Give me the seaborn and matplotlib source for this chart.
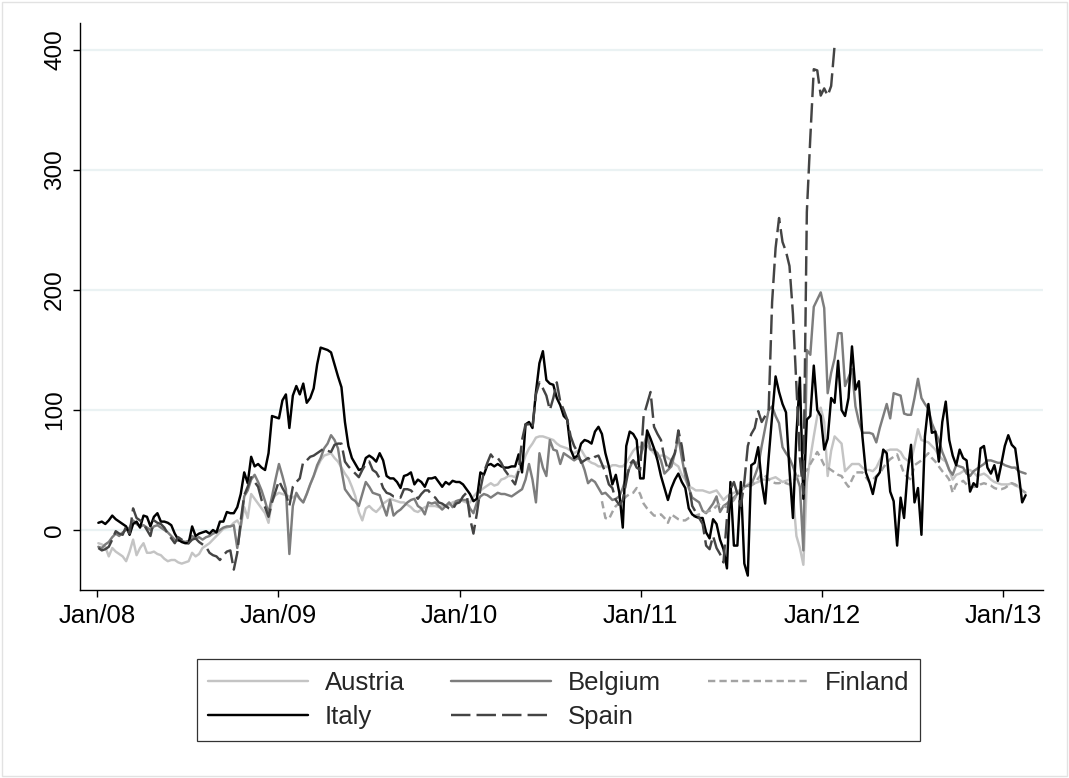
import numpy as np
import pandas as pd
import matplotlib
matplotlib.use('Agg')
import matplotlib.pyplot as plt
import matplotlib.dates as mdates
from matplotlib.patches import Rectangle
import seaborn as sns

# ------------------------------------------------------------
# Weekly spreads, one row of the list per year
# ------------------------------------------------------------
start_date = '2008-01-04'
n_weeks = 268
finland_first_week = 145   # Finland series starts in Oct 2010

austria = [
    -11, -12, -14, -22, -15, -18, -20, -22, -26, -18, -8, -21, -15, -11, -19, -19, -18, -20, -21, -24,
    -26, -25, -25, -27, -28, -27, -26, -19, -22, -20, -15, -13, -11, -8, -5, -2, 1, 2, 3, 6,
    8, 3, 19, 10, 30, 26, 22, 18, 14, 6, 25, 29,
    31, 30, 29, 28, 27, 29, 26, 23, 30, 38, 45, 52, 58, 62, 63, 64, 60, 57, 52, 47,
    43, 36, 28, 15, 8, 18, 20, 17, 15, 18, 22, 24, 26, 25, 24, 23, 23, 21, 19, 16,
    15, 17, 19, 20, 20, 20, 19, 20, 20, 21, 23, 24,
    25, 24, 23, 23, 28, 31, 33, 35, 37, 39, 37, 38, 42, 43, 45, 45, 44, 50, 53, 62,
    68, 72, 77, 78, 78, 77, 76, 75, 72, 70, 69, 68, 66, 64, 66, 67, 62, 58, 56, 55,
    53, 53, 53, 52, 54, 54, 53, 53, 56, 61, 66, 69,
    69, 71, 70, 67, 64, 61, 62, 62, 60, 58, 55, 53, 46, 42, 36, 35, 33, 33, 33, 32,
    31, 32, 33, 29, 25, 28, 30, 31, 32, 34, 36, 38, 40, 39, 40, 42, 42, 42, 43, 44,
    42, 40, 41, 42, 30, -5, -15, -29, 40, 60, 78, 95,
    102, 90, 45, 66, 78, 75, 72, 49, 52, 55, 55, 55, 52, 50, 50, 49, 52, 58, 64, 66,
    67, 67, 67, 65, 60, 58, 57, 70, 84, 75, 74, 73, 70, 67, 62, 59, 57, 50, 42, 46,
    47, 49, 50, 50, 48, 45, 46, 47, 45, 42, 40, 39,
    38, 38, 38, 39, 37, 36, 33, 31,
]

belgium = [
    -14, -15, -12, -10, -6, -3, -5, -2, 0, 2, 8, 5, 3, 4, 2, 0, 3, 4, 2, 0,
    -2, -5, -8, -9, -9, -10, -9, -5, -7, -6, -8, -6, -5, -3, -2, 0, 2, 3, 3, 4,
    -15, 3, 28, 33, 42, 46, 40, 33, 24, 14, 28, 42,
    55, 45, 34, -20, 20, 31, 26, 23, 30, 38, 45, 54, 60, 68, 72, 79, 75, 68, 50, 34,
    30, 26, 24, 20, 30, 40, 36, 31, 30, 29, 20, 12, 25, 12, 15, 17, 20, 23, 25, 26,
    20, 18, 13, 23, 22, 23, 20, 17, 20, 23, 19, 24,
    25, 25, 25, 18, 14, 23, 28, 30, 29, 27, 29, 31, 30, 30, 29, 28, 30, 32, 34, 42,
    55, 42, 23, 64, 52, 45, 75, 67, 66, 55, 64, 62, 60, 58, 60, 58, 50, 39, 42, 40,
    35, 30, 31, 28, 25, 26, 28, 35, 44, 52, 58, 55,
    61, 70, 80, 67, 67, 64, 58, 47, 50, 53, 64, 78, 60, 45, 35, 27, 25, 23, 16, 14,
    18, 22, 28, 15, 20, 22, 25, 27, 30, 33, 36, 37, 38, 45, 53, 70, 85, 100, 103, 95,
    89, 69, 64, 60, 53, 45, 36, -17, 150, 146, 186, 192,
    198, 185, 114, 131, 143, 164, 164, 120, 127, 134, 103, 90, 81, 81, 81, 80, 73, 85, 95, 105,
    93, 114, 113, 112, 97, 96, 96, 110, 126, 110, 105, 101, 89, 82, 75, 65, 58, 50, 46, 54,
    53, 52, 47, 45, 49, 51, 53, 55, 58, 58, 57, 56,
    56, 54, 53, 52, 52, 49, 48, 47,
]

finland = [
    24, 10, 9, 15, 20, 22, 25, 28, 30, 31, 35,
    30, 22, 18, 15, 12, 12, 13, 10, 6, 13, 11, 9, 8, 8, 10, 11, 12, 13, 14, 15,
    16, 17, 20, 22, 20, 19, 22, 25, 30, 33, 35, 36, 37, 39, 43, 47, 45, 42, 40, 39,
    39, 40, 39, 38, 40, 44, 46, 47, 50, 55, 60, 65,
    60, 54, 52, 50, 48, 46, 45, 40, 36, 42, 48, 48, 48, 44, 40, 42, 45, 47, 52, 56,
    59, 61, 63, 55, 47, 44, 42, 54, 56, 58, 61, 64, 60, 57, 53, 49, 46, 42, 31, 38,
    39, 41, 38, 35, 36, 36, 38, 39, 38, 37, 35, 34,
    34, 35, 37, 39, 38, 36, 33, 31,
]

italy = [
    6, 7, 5, 8, 12, 9, 7, 5, 3, -4, 5, 7, 2, 12, 11, 3, 11, 14, 7, 7,
    6, 4, -3, -8, -10, -11, -11, 3, -5, -3, -2, -1, -3, 0, -2, 7, 7, 15, 14, 14,
    19, 30, 48, 39, 61, 53, 55, 52, 50, 64, 95, 94,
    93, 108, 113, 85, 112, 120, 113, 122, 106, 110, 118, 138, 152, 151, 150, 148, 138, 128, 119, 90,
    70, 60, 55, 50, 51, 60, 62, 60, 57, 64, 58, 45, 43, 43, 40, 35, 45, 46, 48, 38,
    42, 40, 36, 43, 43, 44, 40, 36, 40, 38, 41, 40,
    40, 38, 34, 30, 24, 26, 48, 46, 54, 55, 53, 55, 53, 52, 52, 53, 53, 63, 48, 88,
    90, 85, 115, 139, 149, 125, 122, 121, 110, 104, 95, 92, 67, 60, 62, 72, 75, 74, 72, 82,
    86, 80, 64, 53, 38, 46, 31, 2, 70, 82, 80, 75,
    43, 43, 83, 76, 68, 58, 45, 35, 25, 35, 42, 47, 40, 35, 18, 13, 11, 10, 10, -2,
    -7, 9, 5, -8, -16, -32, 40, -13, -13, 40, -28, -38, 54, 56, 69, 40, 22, 60, 95, 128,
    115, 105, 98, 50, 10, 80, 127, 26, 92, 95, 137, 100,
    95, 67, 76, 110, 106, 141, 100, 95, 110, 153, 117, 124, 78, 48, 40, 30, 44, 48, 67, 64,
    32, 24, -13, 27, 10, 48, 71, 23, 35, -4, 78, 105, 81, 82, 57, 90, 107, 75, 62, 54,
    67, 60, 58, 32, 39, 36, 68, 70, 52, 47, 54, 41,
    55, 70, 79, 71, 68, 47, 23, 29,
]

spain = [
    -15, -17, -16, -14, -8, -1, -3, -4, 3, -3, 18, 10, 8, 5, 0, -5, 8, 6, 5, 2,
    -3, -7, -11, -6, -8, -10, -11, -8, -7, -10, -12, -14, -19, -21, -22, -25, -21, -18, -17, -33,
    -19, 8, 29, 36, 44, 40, 36, 25, 19, 11, 23, 32,
    41, 35, 30, 20, 36, 40, 43, 57, 58, 61, 62, 64, 66, 68, 66, 65, 71, 72, 72, 57,
    53, 50, 47, 44, 50, 55, 57, 50, 48, 43, 35, 31, 30, 28, 28, 27, 34, 34, 33, 30,
    26, 30, 33, 33, 29, 27, 23, 22, 20, 18, 17, 22,
    23, 28, 31, 10, -3, 14, 34, 48, 56, 63, 59, 60, 56, 50, 46, 42, 38, 49, 75, 88,
    88, 85, 113, 123, 118, 112, 100, 110, 123, 107, 100, 92, 78, 70, 65, 56, 58, 60, 58, 61,
    62, 55, 48, 38, 35, 25, 21, 25, 40, 55, 58, 52,
    50, 95, 105, 115, 86, 80, 75, 60, 50, 58, 64, 83, 70, 50, 39, 20, 15, 10, 5, -13,
    -16, -5, -15, -20, -27, 10, 34, 40, 30, 20, 40, 70, 80, 85, 99, 90, 95, 100, 190, 235,
    260, 240, 232, 220, 180, 120, 60, 30, 265, 327, 384, 383,
    362, 368, 362, 370, 404,
]

countries = ['Austria', 'Belgium', 'Finland', 'Italy', 'Spain']
colors = {'Austria': '#c4c4c4', 'Belgium': '#7d7d7d', 'Finland': '#a3a3a3',
          'Italy': '#000000', 'Spain': '#444444'}
dashes = {'Austria': '', 'Belgium': '', 'Finland': (3, 1.7),
          'Italy': '', 'Spain': (8, 2.5)}

# ------------------------------------------------------------
# Long table for seaborn
# ------------------------------------------------------------
dates = pd.date_range(start_date, periods=n_weeks, freq='7D')
series = {'Austria': (austria, 0), 'Belgium': (belgium, 0),
          'Finland': (finland, finland_first_week),
          'Italy': (italy, 0), 'Spain': (spain, 0)}
frames = []
for name, (vals, first) in series.items():
    frames.append(pd.DataFrame({'date': dates[first:first + len(vals)],
                                'spread': vals, 'country': name}))
df = pd.concat(frames, ignore_index=True)

# ------------------------------------------------------------
# Plot
# ------------------------------------------------------------
sns.set_theme(style='white')
plt.rcParams['font.family'] = ['Liberation Sans', 'DejaVu Sans']

fig = plt.figure(figsize=(10.69, 7.78), dpi=100)
ax = fig.add_axes([80 / 1069, 1 - 590 / 778, 963 / 1069, 567 / 778])

sns.lineplot(data=df, x='date', y='spread', hue='country', style='country',
             hue_order=countries, style_order=countries, palette=colors,
             dashes=dashes, estimator=None, linewidth=1.75, ax=ax)

ax.set_xlim(pd.Timestamp('2007-11-28'), pd.Timestamp('2013-03-22'))
ax.set_ylim(-50, 422.5)
ax.set_yticks([0, 100, 200, 300, 400])
ax.set_xticks([pd.Timestamp(f'{y}-01-01') for y in range(2008, 2014)])
ax.xaxis.set_major_formatter(mdates.DateFormatter('%b/%y'))
ax.set_xlabel('')
ax.set_ylabel('')

ax.yaxis.grid(True, color='#eaf2f3', linewidth=1.6)
ax.xaxis.grid(False)
ax.set_axisbelow(True)
for s in ['top', 'right']:
    ax.spines[s].set_visible(False)
for s in ['left', 'bottom']:
    ax.spines[s].set_color('black')
    ax.spines[s].set_linewidth(1.0)
ax.tick_params(axis='both', direction='out', length=5, width=1, color='black',
               labelcolor='black', left=True, bottom=True)
ax.tick_params(axis='x', labelsize=18.5, pad=5)
ax.tick_params(axis='y', labelsize=17.5, pad=5)
for lab in ax.get_yticklabels():
    lab.set_rotation(90)
    lab.set_va('center')

# legend below the plot, Stata-like box
handles, labels = ax.get_legend_handles_labels()
ax.get_legend().remove()
lookup = dict(zip(labels, handles))
order = ['Austria', 'Italy', 'Belgium', 'Spain', 'Finland']
leg = fig.legend([lookup[k] for k in order], order, loc='center',
                 bbox_to_anchor=(558.5 / 1069, 78 / 778), ncol=3, fontsize=18.5,
                 frameon=True, fancybox=False, edgecolor='black',
                 handlelength=3.9, handletextpad=0.65, columnspacing=1.8,
                 labelspacing=0.4, borderpad=0.45, borderaxespad=0)
leg.get_frame().set_linewidth(0.9)
for line in leg.get_lines():
    line.set_linewidth(1.75)

# faint outer frame of the graph region
fig.patches.append(Rectangle((0.002, 0.002), 0.996, 0.996, transform=fig.transFigure,
                             fill=False, edgecolor='#e2e2e2', linewidth=1))

plt.savefig('out.png', dpi=100)
